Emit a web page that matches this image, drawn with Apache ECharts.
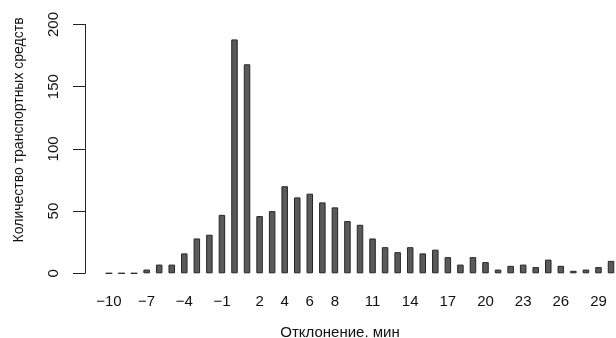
<!DOCTYPE html>
<html>
<head>
<meta charset="utf-8">
<script src="https://cdn.jsdelivr.net/npm/echarts@6/dist/echarts.min.js"></script>
<style>html,body{margin:0;padding:0;background:#fff}#c{width:616px;height:338px}</style>
</head>
<body>
<div id="c"></div>
<script>
var categories = ['-10','-9','-8','-7','-6','-5','-4','-3','-2','-1','0','1','2','3','4','5','6','7','8','9','10','11','12','13','14','15','16','17','18','19','20','21','22','23','24','25','26','27','28','29','30'];
var counts = [0,0,0,3,7,7,16,28,31,47,188,168,46,50,70,61,64,57,53,42,39,28,21,17,21,16,19,13,7,13,9,3,6,7,5,11,6,2,3,5,10];
var shownTickLabels = ['-10','-7','-4','-1','2','4','6','8','11','14','17','20','23','26','29'];
var yTicks = [0,50,100,150,200];

var FONT = 'Liberation Sans, Arial, sans-serif';
var chart = echarts.init(document.getElementById('c'), null, {renderer:'canvas'});
chart.setOption({
  animation: false,
  grid: {left: 102.7, width: 514.6, top: 24.5, bottom: 64.7, containLabel: false, outerBoundsMode: 'none'},
  xAxis: {
    type: 'category',
    data: categories,
    axisLine: {show: false},
    axisTick: {show: false},
    axisLabel: {
      interval: function (i, v) { return shownTickLabels.indexOf(v) >= 0; },
      formatter: function (v) { return v.replace('-', '\u2212'); },
      color: '#111', fontFamily: FONT, fontSize: 15, margin: 21
    },
    name: 'Отклонение. мин',
    nameLocation: 'middle',
    nameGap: 52,
    nameTextStyle: {color: '#111', fontFamily: FONT, fontSize: 15, padding: [0, 40, 0, 0]}
  },
  yAxis: {
    type: 'value',
    min: yTicks[0], max: yTicks[yTicks.length-1], interval: 50,
    offset: 17.7,
    splitLine: {show: false},
    axisLine: {show: true, lineStyle: {color: '#222', width: 1}},
    axisTick: {show: true, inside: false, length: 12, lineStyle: {color: '#222', width: 1}},
    axisLabel: {rotate: 90, color: '#111', fontFamily: FONT, fontSize: 15, margin: 24},
    name: 'Количество транспортных средств',
    nameLocation: 'middle',
    nameGap: 59,
    nameTextStyle: {color: '#111', fontFamily: FONT, fontSize: 14, padding: [0, 0, 0, 38]}
  },
  series: [{
    type: 'bar',
    data: counts,
    barWidth: 6.5,
    itemStyle: {color: '#5a5a5a', borderColor: '#262626', borderWidth: 1}
  }]
});
</script>
</body>
</html>
